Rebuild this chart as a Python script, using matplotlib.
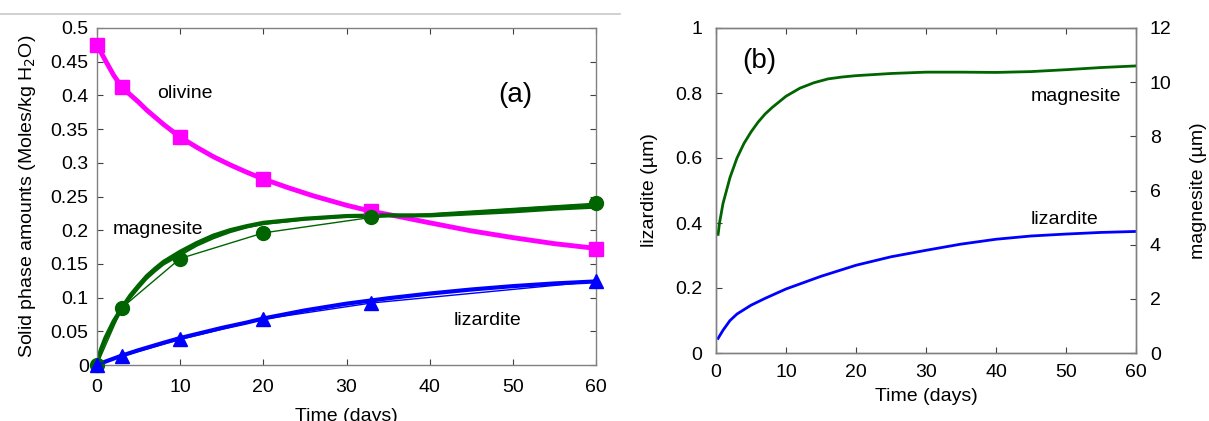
#!/usr/bin/env python3
# -*- coding:utf-8 -*-
import numpy as np
import matplotlib
matplotlib.use("Agg")
import matplotlib.pyplot as plt
from matplotlib.lines import Line2D

plt.rcParams['font.family'] = ['Liberation Sans', 'DejaVu Sans']

# ---- panel (a) : measured points ----
t_pts = [0, 3, 10, 20, 33, 60]
olivine_pts = [0.475, 0.412, 0.338, 0.276, 0.228, 0.172]
magnesite_pts = [0.0, 0.085, 0.158, 0.196, 0.219, 0.240]
lizardite_pts = [0.0, 0.013, 0.038, 0.068, 0.092, 0.124]

# ---- panel (a) : model curves ----
t_oli = [0, 1, 2, 3, 4, 5, 6, 8, 10, 12, 14, 16, 18, 20, 23, 26, 30, 33, 36,
         40, 45, 50, 55, 60]
olivine_curve = [0.475, 0.452, 0.43, 0.412, 0.401, 0.39, 0.378, 0.357, 0.338,
                 0.323, 0.309, 0.297, 0.286, 0.276, 0.263, 0.251, 0.237, 0.228,
                 0.221, 0.211, 0.199, 0.189, 0.18, 0.173]
t_mag = [0, 0.5, 1, 2, 3, 4, 5, 6, 7, 8, 10, 12, 14, 16, 18, 20, 25, 30, 35,
         40, 45, 50, 55, 60]
magnesite_curve = [0.005, 0.024, 0.04, 0.065, 0.085, 0.103, 0.118, 0.132, 0.143,
                   0.153, 0.168, 0.181, 0.192, 0.200, 0.206, 0.211, 0.217, 0.221,
                   0.222, 0.222, 0.225, 0.228, 0.232, 0.235]
magnesite_curve2 = [0.0, 0.02, 0.035, 0.06, 0.082, 0.099, 0.114, 0.128, 0.139,
                    0.149, 0.163, 0.177, 0.188, 0.197, 0.204, 0.209, 0.216, 0.220,
                    0.221, 0.223, 0.227, 0.231, 0.235, 0.238]
t_liz = [0, 1, 3, 5, 8, 10, 13, 15, 18, 20, 25, 30, 35, 40, 45, 50, 55, 60]
lizardite_curve = [0.0, 0.005, 0.014, 0.022, 0.033, 0.04, 0.049, 0.055, 0.063,
                   0.069, 0.081, 0.091, 0.099, 0.106, 0.112, 0.117, 0.121, 0.124]

# ---- panel (b) ----
t_b_mag = [0.3, 0.5, 1, 2, 3, 4, 5, 6, 7, 8, 10, 12, 14, 16, 18, 20, 25, 30, 35,
           40, 45, 50, 55, 60]
magnesite_um = [4.38, 4.8, 5.52, 6.48, 7.2, 7.74, 8.16, 8.52, 8.82, 9.06, 9.48,
                9.78, 9.98, 10.12, 10.19, 10.24, 10.32, 10.37, 10.37, 10.36,
                10.39, 10.46, 10.54, 10.6]
t_b_liz = [0.3, 1, 2, 3, 5, 7, 10, 15, 20, 25, 30, 35, 40, 45, 50, 55, 60]
lizardite_um = [0.045, 0.07, 0.1, 0.12, 0.147, 0.168, 0.197, 0.236, 0.27, 0.296,
                0.316, 0.335, 0.35, 0.36, 0.366, 0.371, 0.374]

magenta = '#ff00ff'
green = '#006400'
blue = '#0000ff'
frame = '#808080'
fs = 14

fig = plt.figure(figsize=(12.09, 4.21), dpi=100)

# screenshot separator line at top
fig.add_artist(Line2D([0, 620 / 1209], [1 - 14 / 421, 1 - 14 / 421],
                      color='#c8c8c8', lw=1.2, transform=fig.transFigure))


def style_axes(ax):
	for s in ax.spines.values():
		s.set_color(frame)
		s.set_linewidth(1.0)
	ax.tick_params(direction='in', length=4, color='#404040', labelsize=fs,
	               width=0.8)


# ---------------- panel (a)
ax1 = fig.add_axes([97 / 1209, 1 - 365 / 421, (596 - 97) / 1209, (365 - 28) / 421])
ax1.plot(t_oli, olivine_curve, color=magenta, lw=3.5, zorder=2)
ax1.plot(t_pts, olivine_pts, 's', color=magenta, ms=10, clip_on=False, zorder=3)

ax1.plot(t_mag, magnesite_curve2, color=green, lw=1.5, zorder=2)
ax1.plot(t_mag, magnesite_curve, color=green, lw=3.0, zorder=2)
ax1.plot(t_pts, magnesite_pts, '-o', color=green, lw=1.0, ms=10, clip_on=False, zorder=3)

ax1.plot(t_liz, lizardite_curve, color=blue, lw=3.0, zorder=2)
ax1.plot(t_pts, lizardite_pts, '-^', color=blue, lw=1.0, ms=10, clip_on=False, zorder=3)

ax1.set_xlim(0, 60)
ax1.set_ylim(0, 0.5)
ax1.set_xticks([0, 10, 20, 30, 40, 50, 60])
ax1.set_yticks([0, 0.05, 0.1, 0.15, 0.2, 0.25, 0.3, 0.35, 0.4, 0.45, 0.5])
ax1.set_yticklabels(['0', '0.05', '0.1', '0.15', '0.2', '0.25', '0.3', '0.35',
                     '0.4', '0.45', '0.5'])
ax1.tick_params(top=True, right=True)
style_axes(ax1)
ax1.tick_params(axis='x', pad=10)
ax1.tick_params(axis='y', pad=6)
ax1.set_xlabel('Time (days)', fontsize=fs, labelpad=9)
ax1.set_ylabel('Solid phase amounts (Moles/kg H$_2$O)', fontsize=fs, labelpad=9)

ax1.text(7.2, 0.403, 'olivine', fontsize=fs, va='center')
ax1.text(1.9, 0.201, 'magnesite', fontsize=fs, va='center')
ax1.text(42.9, 0.066, 'lizardite', fontsize=fs, va='center')
ax1.text(48.2, 0.4, '(a)', fontsize=20, va='center')

# ---------------- panel (b)
ax2 = fig.add_axes([716 / 1209, 1 - 353 / 421, (1136 - 716) / 1209, (353 - 28) / 421])
ax2.plot(t_b_liz, lizardite_um, color=blue, lw=2.0)
ax2.set_xlim(0, 60)
ax2.set_ylim(0, 1)
ax2.set_xticks([0, 10, 20, 30, 40, 50, 60])
ax2.set_yticks([0, 0.2, 0.4, 0.6, 0.8, 1])
ax2.set_yticklabels(['0', '0.2', '0.4', '0.6', '0.8', '1'])
ax2.tick_params(top=True)
style_axes(ax2)
ax2.tick_params(axis='y', pad=10)
ax2.tick_params(axis='x', pad=8)
ax2.set_xlabel('Time (days)', fontsize=fs, labelpad=5)
ax2.set_ylabel('lizardite (\u00b5m)', fontsize=fs, labelpad=12)

ax3 = ax2.twinx()
ax3.plot(t_b_mag, magnesite_um, color=green, lw=2.0)
ax3.set_ylim(0, 12)
ax3.set_yticks([0, 2, 4, 6, 8, 10, 12])
style_axes(ax3)
ax3.tick_params(axis='y', pad=10)
ax3.set_ylabel('magnesite (\u00b5m)', fontsize=fs, labelpad=13)

ax2.text(3.8, 0.9, '(b)', fontsize=20, va='center')
ax2.text(45.0, 0.79, 'magnesite', fontsize=fs, va='center')
ax2.text(45.0, 0.41, 'lizardite', fontsize=fs, va='center')

plt.savefig('out.png', dpi=100)
